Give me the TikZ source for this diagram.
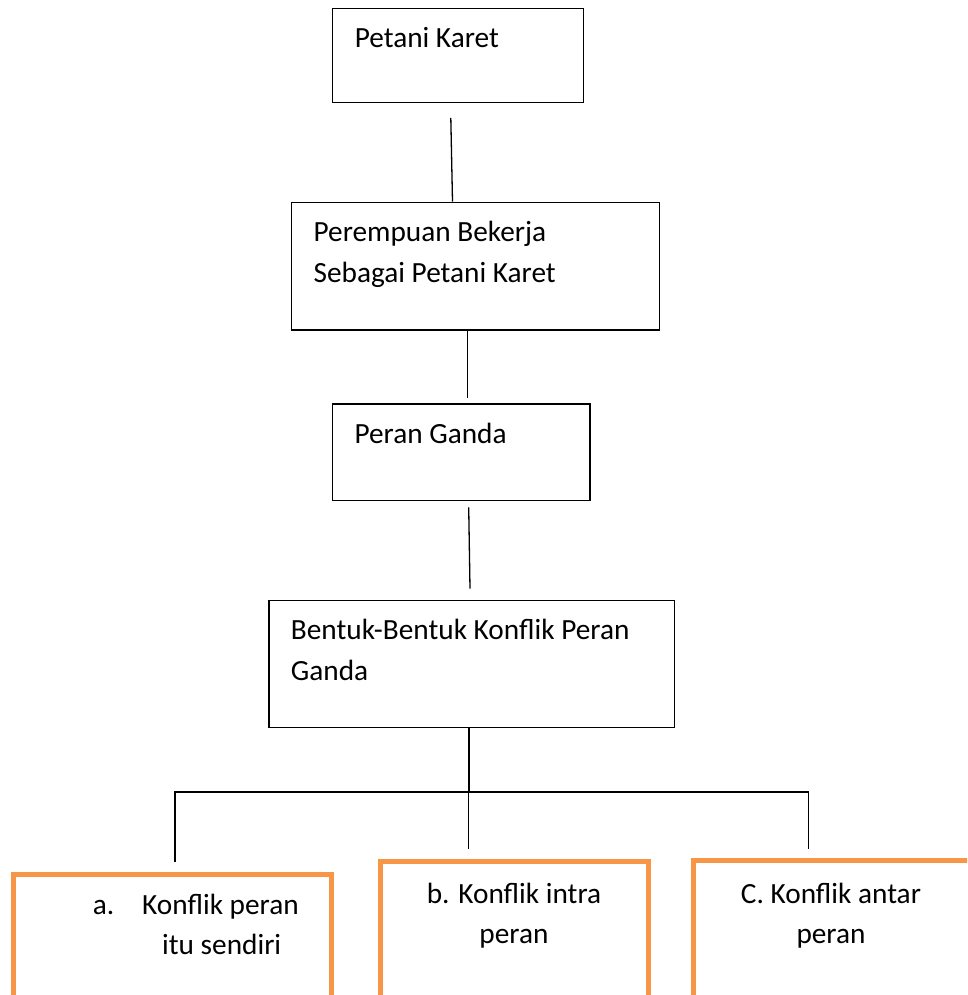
\documentclass[tikz,border=0pt]{standalone}
\usepackage{fontspec}
\setmainfont{Carlito}
\usepackage{tikz}
\usetikzlibrary{positioning, calc}
\definecolor{oren}{HTML}{F79646}

\begin{document}
\begin{tikzpicture}[
    x=1pt, y=1pt,
    box/.style={draw, line width=1.3pt, rectangle, inner sep=0pt},
    subbox/.style={draw=oren, line width=5pt, rectangle, inner sep=0pt},
    txt/.style={font=\fontsize{29.3}{41}\selectfont, inner sep=0pt, anchor=base west, align=left},
    subtxt/.style={font=\fontsize{29.3}{40}\selectfont, inner sep=0pt, anchor=base, align=center},
    garis/.style={line width=1.3pt}
]
    \useasboundingbox (0,0) rectangle (967,-995);
    \clip (0,0) rectangle (967,-995);

    % kotak utama
    \node[box, minimum width=251, minimum height=94] (tani) at (457.8,-55.3) {};
    \node[box, minimum width=367.6, minimum height=127.7] (perempuan) at (475.5,-266.2) {};
    \node[box, minimum width=257.7, minimum height=96.7] (peran) at (461.2,-452.3) {};
    \node[box, minimum width=405.3, minimum height=127] (bentuk) at (471.7,-664.2) {};

    % teks (base = baris terakhir)
    \node[txt] (taniT) at (354.6,-47.3) {Petani Karet};
    \node[txt] (perempuanT) at (313.4,-282.7) {Perempuan Bekerja\\Sebagai Petani Karet};
    \node[txt] (peranT) at (354.3,-443.3) {Peran Ganda};
    \node[txt] (bentukT) at (290.7,-680) {Bentuk-Bentuk Konflik Peran\\Ganda};

    % kotak bentuk konflik
    \node[subbox, minimum width=318, minimum height=136] (konA) at (172,-942) {};
    \node[subbox, minimum width=268, minimum height=148.5] (konB) at (514,-935.75) {};
    \node[subbox, minimum width=307, minimum height=149.5] (konC) at (846.5,-935.25) {};

    \node[txt, font=\fontsize{29.3}{40}\selectfont] (konAT) at (92.6,-954)
        {\makebox[49.4pt][l]{a.}Konflik peran\\\hspace*{69.4pt}itu sendiri};
    \node[subtxt] (konBT) at (514,-943) {b. Konflik intra\\peran};
    \node[subtxt] (konCT) at (831,-943) {C. Konflik antar\\peran};

    % garis penghubung
    \draw[garis] ([shift={(-7,-15)}]tani.south) -- ([xshift=-23]perempuan.north);
    \draw[garis] ([xshift=-7.8]perempuan.south) -- ([shift={(6.5,5)}]peran.north);
    \draw[garis] ([shift={(7.5,-6)}]peran.south) -- ([shift={(-1.7,11.4)}]bentuk.north);

    \coordinate (cabang) at (469,-792);
    \coordinate (ujungA) at (175,-861.7);
    \coordinate (ujungB) at (468.5,-849);
    \coordinate (ujungC) at (808.6,-849);
    \draw[garis] (bentuk.south -| cabang) -- (cabang);
    \draw[garis] (ujungA) -- (ujungA |- cabang) -- (ujungC |- cabang) -- (ujungC);
    \draw[garis] (ujungB) -- (ujungB |- cabang);
\end{tikzpicture}
\end{document}
